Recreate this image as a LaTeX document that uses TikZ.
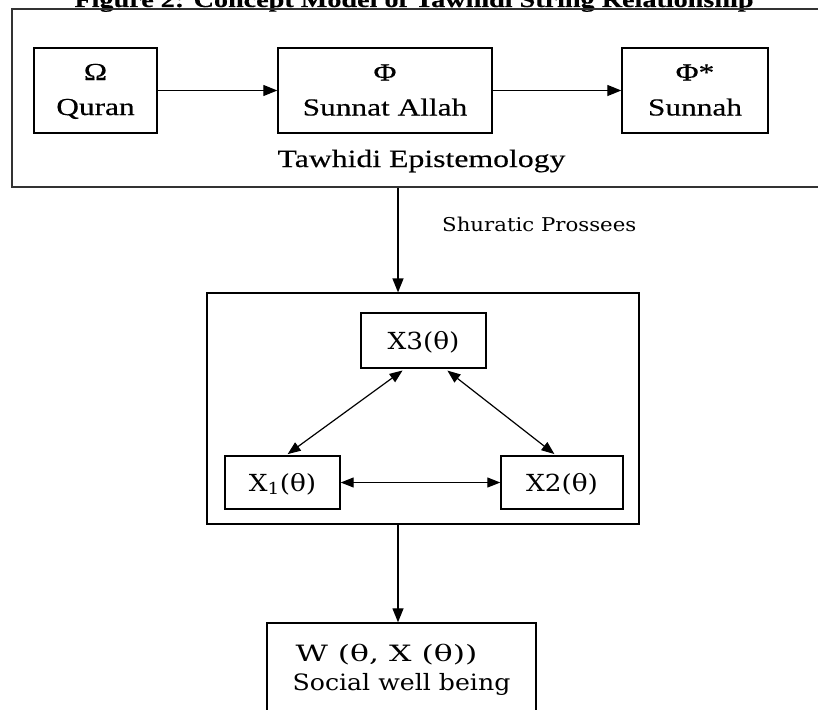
\documentclass[tikz,border=0pt]{standalone}
\usepackage{fontspec}
\setmainfont{Liberation Serif}[FakeStretch=1.28, FakeBold=0.4]
\newfontfamily\cenfont{DejaVu Serif}[FakeStretch=1.12]
\usetikzlibrary{arrows.meta}

% line struts so two-line boxes keep fixed baselines
\newcommand\topstrut{\rule[-3pt]{0pt}{21pt}}
\newcommand\wstrut{\rule[-5pt]{0pt}{20pt}}

\tikzset{
  box/.style={draw, line width=1.4pt, inner sep=0pt},
  twoline/.style={box, align=center, font=\fontsize{24.5pt}{35pt}\selectfont},
  xbox/.style={box, font=\cenfont\fontsize{23.5pt}{28pt}\selectfont,
    text height=17pt, text depth=0pt},
  arr/.style={-{Triangle[length=14pt,width=11pt]}, line width=1.3pt},
  darr/.style={{Triangle[length=13pt,width=10pt]}-{Triangle[length=13pt,width=10pt]},
    line width=1.2pt},
}

\begin{document}
\begin{tikzpicture}[x=1pt, y=-1pt]
\useasboundingbox (0,0) rectangle (818,709);
\clip (0,0) rectangle (818,709);

% caption, partly above the page edge
\node[anchor=base, inner sep=0pt, font=\bfseries\fontsize{22pt}{26pt}\selectfont]
  (title) at (414,7) {Figure 2: Concept Model of Tawhidi String Relationship};

% epistemology frame
\node[draw=black!80, line width=1.2pt, minimum width=818pt, minimum height=178pt,
  inner sep=0pt] (epi) at (421,98) {};
\node[twoline, minimum width=123pt, minimum height=85pt] (q) at (95.5,90.5)
  {\topstrut Ω\\\topstrut Quran};
\node[twoline, minimum width=214pt, minimum height=85pt] (sa) at (385,90.5)
  {\topstrut Φ\\\topstrut Sunnat Allah};
\node[twoline, minimum width=146pt, minimum height=85pt] (sn) at (695,90.5)
  {\topstrut Φ*\\\topstrut Sunnah};
\node[anchor=base, inner sep=0pt, font=\fontsize{24.8pt}{28pt}\selectfont]
  (tawhidi) at (421.5,167) {Tawhidi Epistemology};

\draw[arr] (q.east) -- (sa.west);
\draw[arr] (sa.east) -- (sn.west);

% shura process
\node[anchor=base west, inner sep=0pt, font=\cenfont\fontsize{19pt}{22pt}\selectfont]
  (shura) at (442,231) {Shuratic Prossees};

\node[draw, line width=1.2pt, minimum width=432pt, minimum height=231pt,
  inner sep=0pt] (proc) at (423,408.5) {};
\node[xbox, minimum width=125pt, minimum height=55pt] (x3) at (423.5,340.5) {X3(θ)};
\node[xbox, minimum width=115pt, minimum height=53pt] (x1) at (282.5,482.5)
  {X\textsubscript{1}(θ)};
\node[xbox, minimum width=122pt, minimum height=53pt] (x2) at (562,482.5) {X2(θ)};

\draw[darr, shorten <=3pt, shorten >=2pt] ([xshift=-18.5pt]x3.south) -- ([xshift=3.5pt]x1.north);
\draw[darr, shorten <=3pt, shorten >=2pt] ([xshift=21.5pt]x3.south) -- ([xshift=-6pt]x2.north);
\draw[darr] (x1.east) -- (x2.west);

% social well being
\node[box, minimum width=269pt, minimum height=117pt] (wbox) at (401.5,681.5) {};
\node[align=center, inner sep=0pt, font=\cenfont\fontsize{22.5pt}{29pt}\selectfont]
  (wtext) at (401.5,670)
  {\wstrut\makebox[200pt][c]{\scalebox{1.25}[1]{W (θ, X (θ))}\hspace*{30pt}}\\
   \wstrut Social well being};

% vertical flow
\coordinate (spine) at (398,0);
\draw[arr] (spine |- epi.south) -- (spine |- proc.north);
\draw[arr] (spine |- proc.south) -- (spine |- wbox.north);
\end{tikzpicture}
\end{document}
